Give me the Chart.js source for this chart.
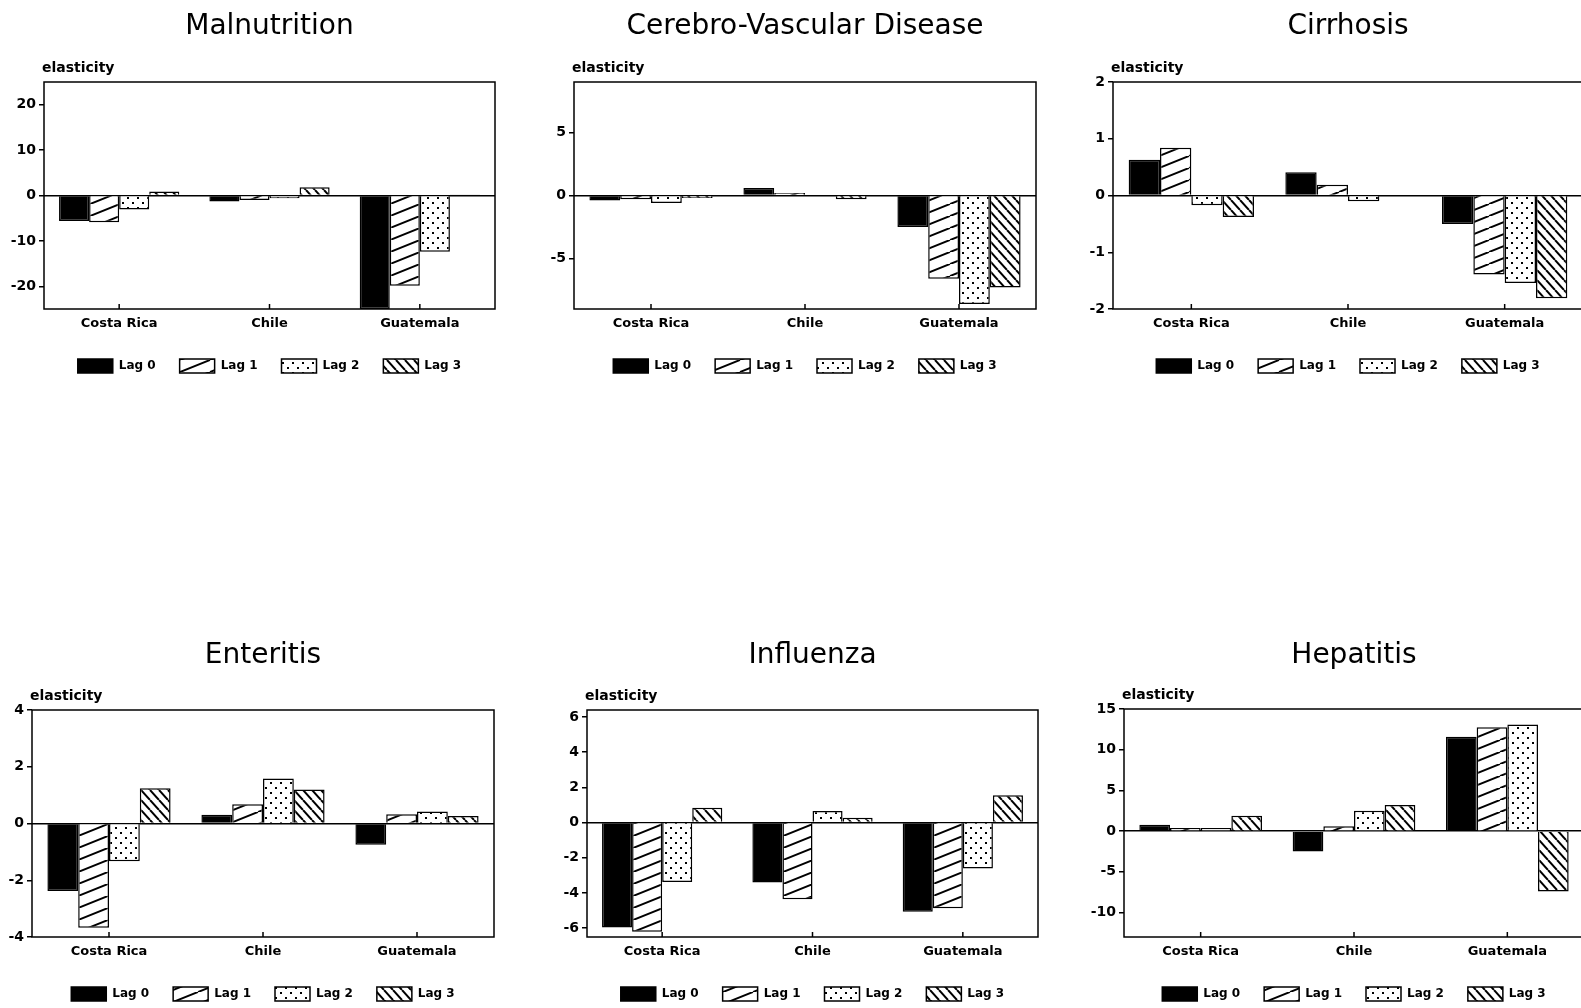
<!DOCTYPE html>
<html>
<head>
<meta charset="utf-8">
<script src="https://cdn.jsdelivr.net/npm/chart.js@4.4.0/dist/chart.umd.min.js"></script>
<style>
  html, body { margin: 0; padding: 0; background: #fff; width: 1581px; height: 1008px; overflow: hidden; position: relative; }
  canvas { position: absolute; }
</style>
</head>
<body>
<script>
const countries = ['Costa Rica', 'Chile', 'Guatemala']
const lags = ['Lag 0', 'Lag 1', 'Lag 2', 'Lag 3']
const titles = ['Malnutrition', 'Cerebro-Vascular Disease', 'Cirrhosis', 'Enteritis', 'Influenza', 'Hepatitis']

// elasticity, one row per lag, values for Costa Rica / Chile / Guatemala
const malnutrition = [
  [-5.6, -1.3, -25],
  [-5.9, -1.0, -19.9],
  [-3.1, -0.6, -12.4],
  [0.9, 1.8, 0.2]
]
const cerebroVascular = [
  [-0.4, 0.6, -2.5],
  [-0.3, 0.2, -6.6],
  [-0.6, -0.05, -8.6],
  [-0.2, -0.3, -7.3]
]
const cirrhosis = [
  [0.63, 0.41, -0.5],
  [0.84, 0.19, -1.39],
  [-0.17, -0.1, -1.54],
  [-0.38, 0, -1.81]
]
const enteritis = [
  [-2.38, 0.31, -0.75],
  [-3.67, 0.68, 0.33],
  [-1.33, 1.59, 0.42],
  [1.24, 1.2, 0.26]
]
const influenza = [
  [-5.96, -3.4, -5.07],
  [-6.2, -4.35, -4.86],
  [-3.37, 0.66, -2.61],
  [0.85, 0.28, 1.55]
]
const hepatitis = [
  [0.78, -2.5, 11.6],
  [0.4, 0.6, 12.75],
  [0.4, 2.5, 13.1],
  [1.88, 3.2, -7.4]
]

const yRanges = [[-25, 25], [-9, 9], [-2, 2], [-4, 4], [-6.5, 6.4], [-13, 15]]
const yTicks = [
  [-20, -10, 0, 10, 20],
  [-5, 0, 5],
  [-2, -1, 0, 1, 2],
  [-4, -2, 0, 2, 4],
  [-6, -4, -2, 0, 2, 4, 6],
  [-10, -5, 0, 5, 10, 15]
]

const panelData = [malnutrition, cerebroVascular, cirrhosis, enteritis, influenza, hepatitis]

// page layout: plot boxes and the two rows
const rows = [
  { top: 0, height: 383, titleY: 27 },
  { top: 620, height: 391, titleY: 656 }
]
const boxes = [
  { left: 44, top: 82, right: 495, bottom: 309 },
  { left: 574, top: 82, right: 1036, bottom: 309 },
  { left: 1113, top: 82, right: 1583, bottom: 309 },
  { left: 32, top: 710, right: 494, bottom: 937 },
  { left: 587, top: 710, right: 1038, bottom: 937 },
  { left: 1124, top: 709, right: 1584, bottom: 937 }
]
const yAxisWidth = 44
const rightPad = 20
const legendPadding = 24
const legendHeight = 14 + legendPadding + 10
const titleLine = 28 * 1.2

const font = (size, weight) => ({ family: '"DejaVu Sans", sans-serif', size, weight })

const makePattern = (ctx, w, h, draw) => {
  const tile = document.createElement('canvas')
  tile.width = w
  tile.height = h
  const g = tile.getContext('2d')
  g.fillStyle = '#fff'
  g.fillRect(0, 0, w, h)
  g.strokeStyle = '#000'
  g.fillStyle = '#000'
  g.lineWidth = 2
  draw(g, w, h)
  return ctx.createPattern(tile, 'repeat')
}

const fills = (ctx) => [
  '#000',
  makePattern(ctx, 30, 12, (g, w, h) => {
    g.beginPath()
    for (const dx of [-w, 0, w]) { g.moveTo(dx, h); g.lineTo(dx + w, 0) }
    g.stroke()
  }),
  makePattern(ctx, 10, 10, (g) => {
    g.fillRect(2, 2, 2, 2)
    g.fillRect(7, 7, 2, 2)
  }),
  makePattern(ctx, 9, 10, (g, w, h) => {
    g.beginPath()
    for (const dx of [-w, 0, w]) { g.moveTo(dx, 0); g.lineTo(dx + w, h) }
    g.stroke()
  })
]

// box round the plot, inward ticks on the x axis and the "elasticity" label
const framePlugin = {
  id: 'frame',
  afterDatasetsDraw(chart) {
    const { ctx, chartArea: a, scales: { x } } = chart
    ctx.save()
    ctx.strokeStyle = '#000'
    ctx.lineWidth = 1.5
    ctx.strokeRect(a.left, a.top, a.right - a.left, a.bottom - a.top)
    ctx.beginPath()
    x.ticks.forEach((t, i) => {
      const px = x.getPixelForTick(i)
      ctx.moveTo(px, a.bottom)
      ctx.lineTo(px, a.bottom - 5)
    })
    ctx.stroke()
    ctx.fillStyle = '#000'
    ctx.font = 'bold 14px "DejaVu Sans", sans-serif'
    ctx.textAlign = 'left'
    ctx.textBaseline = 'middle'
    ctx.fillText('elasticity', a.left - 2, a.top - 14)
    ctx.restore()
  }
}

panelData.forEach((values, i) => {
  const box = boxes[i]
  const row = rows[i < 3 ? 0 : 1]
  const canvas = document.createElement('canvas')
  const width = box.right - box.left + yAxisWidth + rightPad
  canvas.width = width
  canvas.height = row.height
  canvas.style.left = (box.left - yAxisWidth) + 'px'
  canvas.style.top = row.top + 'px'
  canvas.style.width = width + 'px'
  canvas.style.height = row.height + 'px'
  document.body.appendChild(canvas)

  const ctx = canvas.getContext('2d')
  const patterns = fills(ctx)
  const titleTop = row.titleY - row.top - titleLine / 2
  const titleBottom = box.top - row.top - titleTop - titleLine
  const xAxisHeight = row.height - legendHeight - (box.bottom - row.top)

  new Chart(ctx, {
    type: 'bar',
    data: {
      labels: countries,
      datasets: lags.map((lag, j) => ({
        label: lag,
        data: values[j],
        backgroundColor: patterns[j],
        borderColor: '#000',
        borderWidth: 1.5,
        categoryPercentage: 0.8,
        barPercentage: 1
      }))
    },
    options: {
      responsive: false,
      animation: false,
      layout: { padding: { left: 0, right: rightPad, top: 0, bottom: 0 } },
      plugins: {
        title: {
          display: true,
          text: titles[i],
          fullSize: false,
          color: '#000',
          font: font(28, 'normal'),
          padding: { top: titleTop, bottom: titleBottom }
        },
        legend: {
          position: 'bottom',
          fullSize: false,
          labels: {
            boxWidth: 35,
            boxHeight: 14,
            padding: legendPadding,
            color: '#000',
            font: font(12, 'bold')
          }
        },
        tooltip: { enabled: false }
      },
      scales: {
        x: {
          grid: { display: false, drawTicks: false },
          border: { display: false },
          ticks: { color: '#000', font: font(13, 'bold'), padding: 7 },
          afterFit: (scale) => { scale.height = xAxisHeight }
        },
        y: {
          min: yRanges[i][0],
          max: yRanges[i][1],
          afterBuildTicks: (scale) => { scale.ticks = yTicks[i].map(v => ({ value: v })) },
          afterFit: (scale) => { scale.width = yAxisWidth },
          border: { display: false },
          grid: {
            color: (c) => (c.tick && c.tick.value === 0 ? '#000' : 'rgba(0,0,0,0)'),
            lineWidth: 1.5,
            tickColor: '#000',
            tickWidth: 1.5,
            tickLength: 5
          },
          ticks: { color: '#000', font: font(14, 'bold'), padding: 3 }
        }
      }
    },
    plugins: [framePlugin]
  })
})
</script>
</body>
</html>
